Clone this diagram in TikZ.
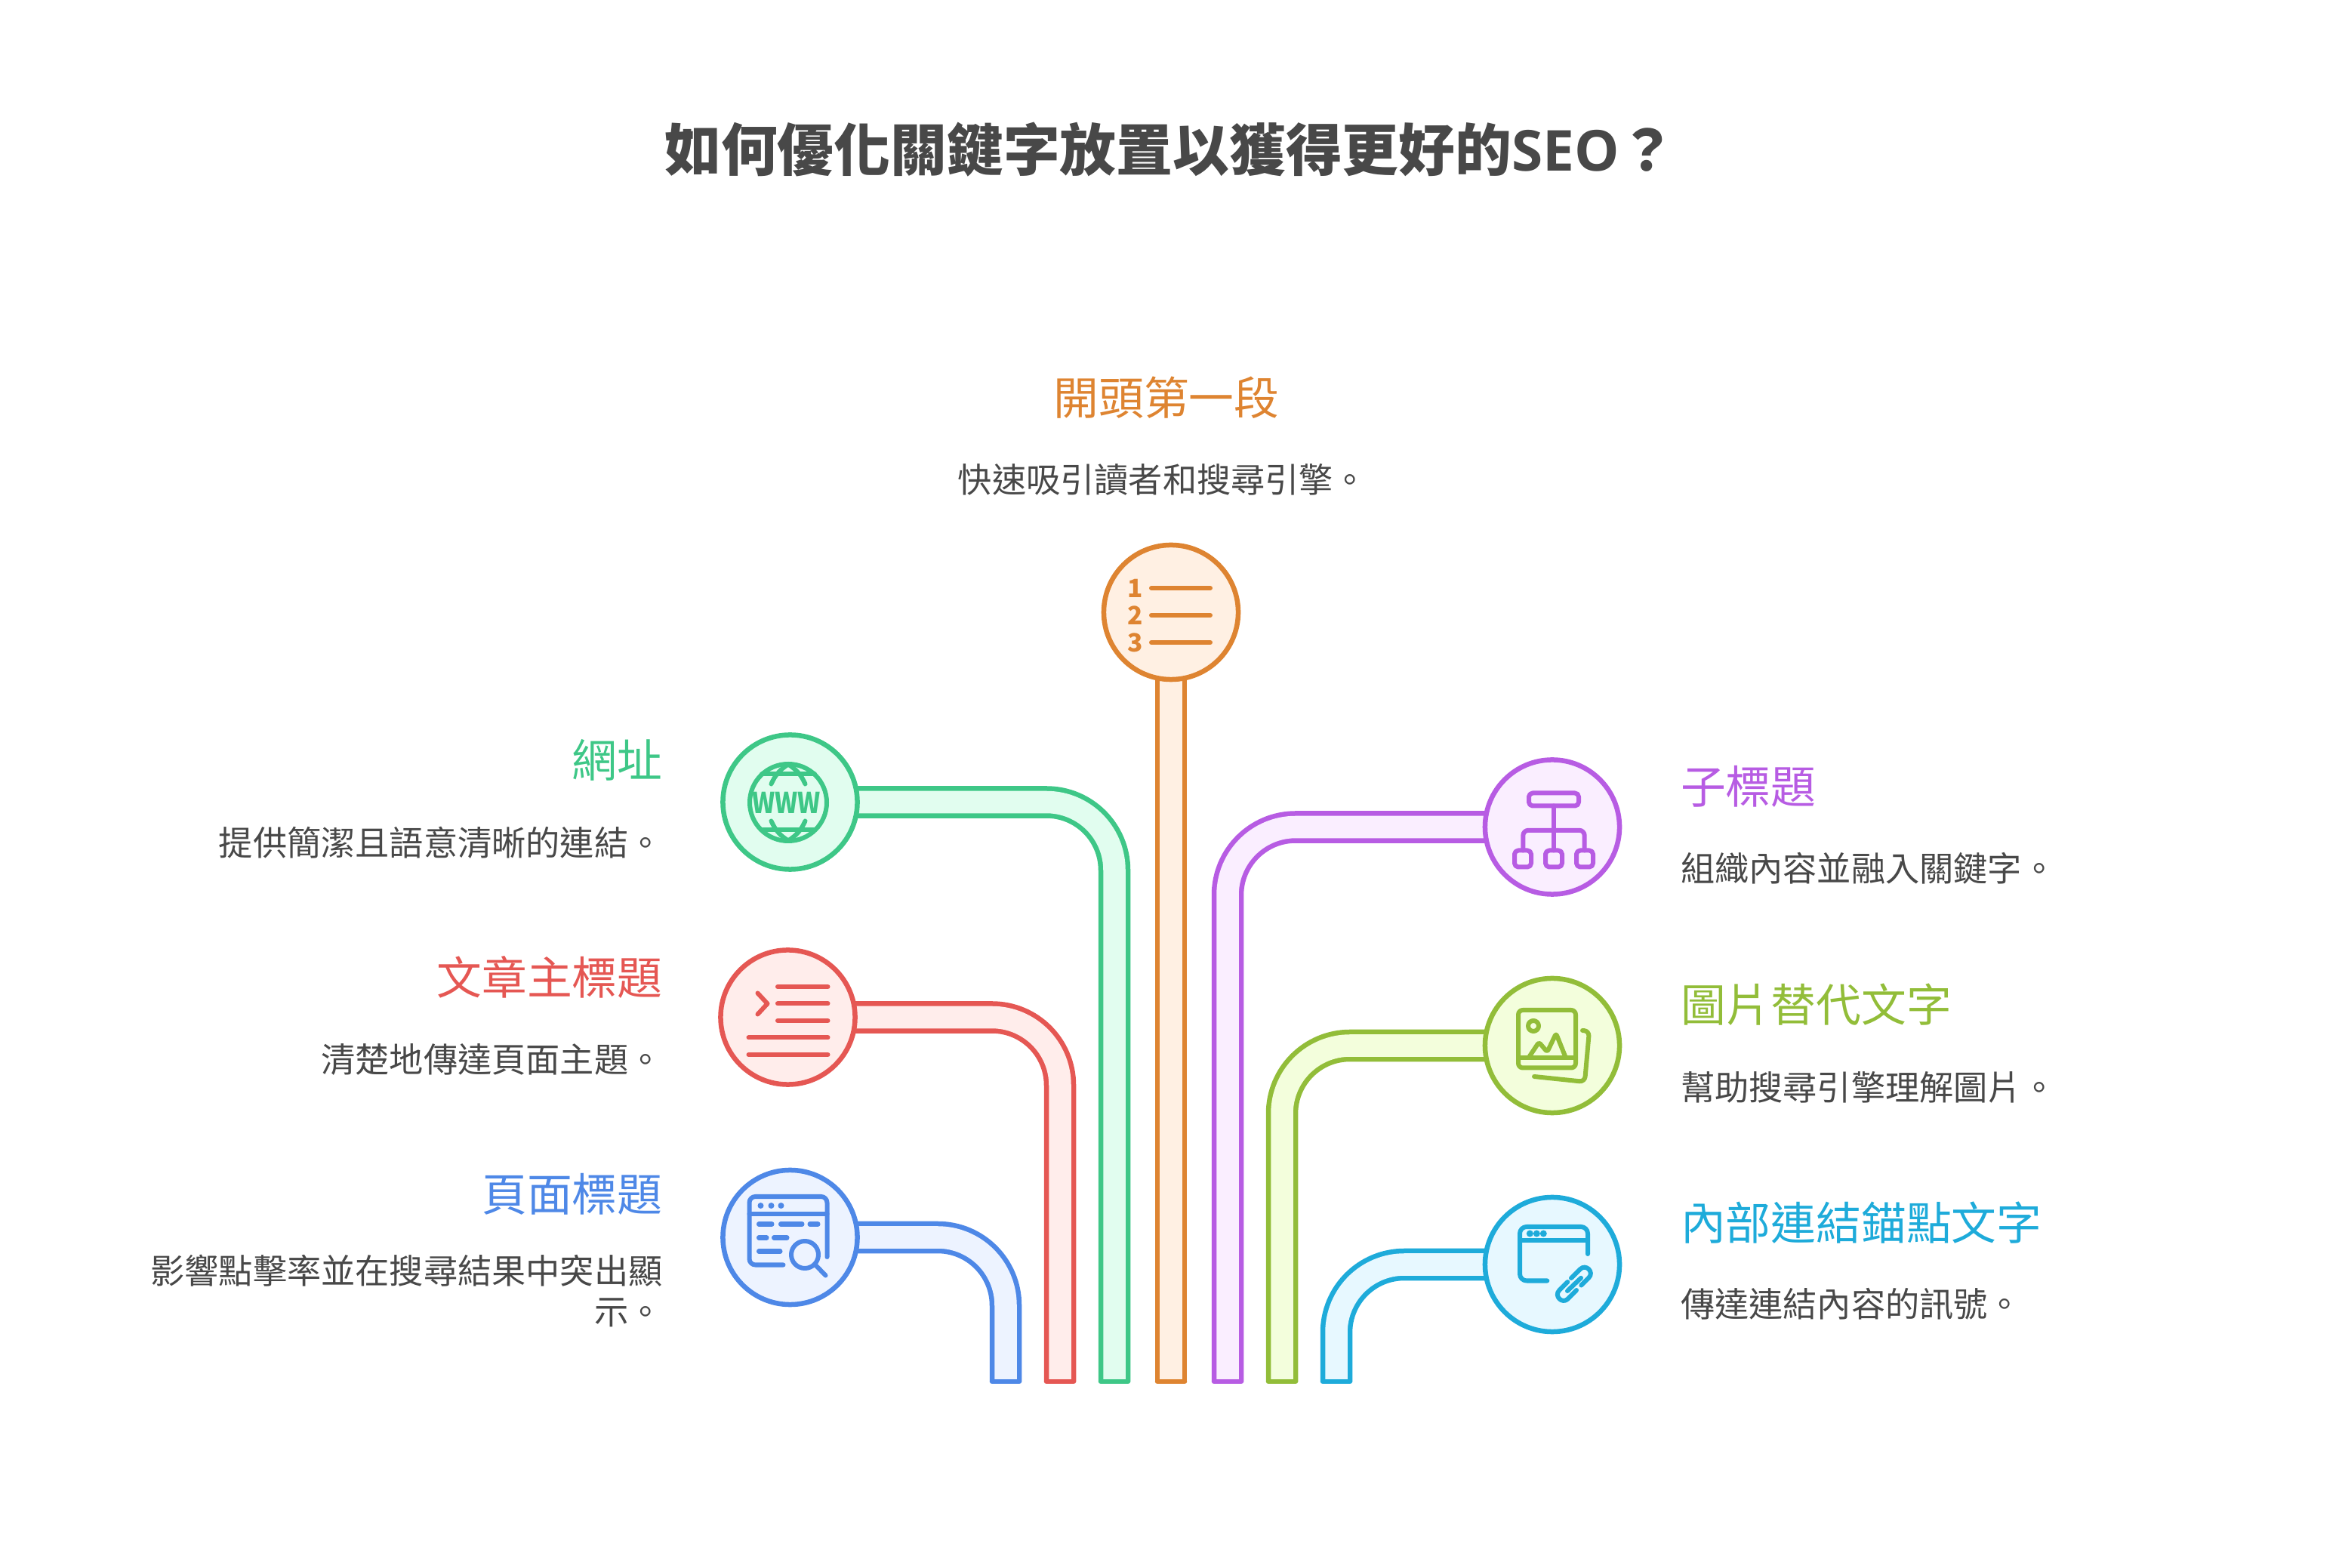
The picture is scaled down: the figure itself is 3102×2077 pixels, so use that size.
\documentclass[tikz,border=0pt]{standalone}
\usepackage{fontspec}
\setmainfont{Noto Sans CJK TC}
\newfontfamily\latinbold{Open Sans}
\usetikzlibrary{positioning}
\pgfdeclarelayer{tubes}
\pgfsetlayers{tubes,main}
\definecolor{bluec}{HTML}{4E88E7}\definecolor{bluef}{HTML}{EDF3FF}
\definecolor{redc}{HTML}{E55753}\definecolor{redf}{HTML}{FFEDEB}
\definecolor{grnc}{HTML}{3EC787}\definecolor{grnf}{HTML}{E1FDEF}
\definecolor{orgc}{HTML}{DE8431}\definecolor{orgf}{HTML}{FFF0E3}
\definecolor{purc}{HTML}{B75CE3}\definecolor{purf}{HTML}{FAEEFF}
\definecolor{limc}{HTML}{92BD39}\definecolor{limf}{HTML}{F3FEDC}
\definecolor{cync}{HTML}{1EABDA}\definecolor{cynf}{HTML}{E7F8FF}
\definecolor{inkc}{HTML}{484848}

\begin{document}
\begin{tikzpicture}[x=0.01cm,y=-0.01cm]
  \tikzset{RoundStyle/.style = {shape=circle, line width=0.065cm, inner sep=0pt, outer sep=0pt, minimum size=1.78cm},
           TubeStyle/.style = {line width=0.065cm, double distance=0.295cm, rounded corners=0.9cm},
           CapStyle/.style = {line width=0.065cm, line cap=round},
           IconStyle/.style = {line width=0.06cm, line cap=round, line join=round},
           HeadStyle/.style = {font=\fontsize{17}{20}\selectfont, inner sep=0pt, outer sep=0pt},
           DescStyle/.style = {font=\fontsize{12.85}{15.4}\selectfont, text=inkc, inner sep=0pt, outer sep=0pt}}
  \useasboundingbox (0,0) rectangle (3102,2077);
  \node[font=\fontsize{21.27}{25}\selectfont\bfseries, text=inkc](title) at (1550,198){如何優化關鍵字放置以獲得更好的{\latinbold SEO}？};
  %%% CIRCLES %%%
  \node[RoundStyle, draw=orgc, fill=orgf](listc) at (1551,811){};
  \node[RoundStyle, draw=grnc, fill=grnf](urlc) at (1046.5,1062.5){};
  \node[RoundStyle, draw=redc, fill=redf](headc) at (1043.5,1347.5){};
  \node[RoundStyle, draw=bluec, fill=bluef](pagec) at (1046.5,1639){};
  \node[RoundStyle, draw=purc, fill=purf](subc) at (2056,1095.5){};
  \node[RoundStyle, draw=limc, fill=limf](imgc) at (2056,1385){};
  \node[RoundStyle, draw=cync, fill=cynf](linkc) at (2056,1675){};
  %%% LOWER ENDS %%%
  \coordinate (pageend) at (1332,1830);
  \coordinate (headend) at (1404,1830);
  \coordinate (urlend) at (1476,1830);
  \coordinate (listend) at (1551,1830);
  \coordinate (subend) at (1626,1830);
  \coordinate (imgend) at (1698,1830);
  \coordinate (linkend) at (1770,1830);
  \begin{pgfonlayer}{tubes}
    \draw[TubeStyle, draw=bluec, double=bluef] (pagec.center) -| (pageend);
    \draw[CapStyle, draw=bluec] ([xshift=-0.18cm]pageend) -- ([xshift=0.18cm]pageend);
    \draw[TubeStyle, draw=redc, double=redf] (headc.center) -| (headend);
    \draw[CapStyle, draw=redc] ([xshift=-0.18cm]headend) -- ([xshift=0.18cm]headend);
    \draw[TubeStyle, draw=grnc, double=grnf] (urlc.center) -| (urlend);
    \draw[CapStyle, draw=grnc] ([xshift=-0.18cm]urlend) -- ([xshift=0.18cm]urlend);
    \draw[TubeStyle, draw=orgc, double=orgf] (listc.center) -- (listend);
    \draw[CapStyle, draw=orgc] ([xshift=-0.18cm]listend) -- ([xshift=0.18cm]listend);
    \draw[TubeStyle, draw=purc, double=purf] (subc.center) -| (subend);
    \draw[CapStyle, draw=purc] ([xshift=-0.18cm]subend) -- ([xshift=0.18cm]subend);
    \draw[TubeStyle, draw=limc, double=limf] (imgc.center) -| (imgend);
    \draw[CapStyle, draw=limc] ([xshift=-0.18cm]imgend) -- ([xshift=0.18cm]imgend);
    \draw[TubeStyle, draw=cync, double=cynf] (linkc.center) -| (linkend);
    \draw[CapStyle, draw=cync] ([xshift=-0.18cm]linkend) -- ([xshift=0.18cm]linkend);
  \end{pgfonlayer}
  %%% TEXTS %%%
  \node[HeadStyle, text=orgc, above=2.84cm of listc.center, xshift=-0.06cm, anchor=center](listh){開頭第一段};
  \node[DescStyle, above=1.76cm of listc.center, xshift=-0.11cm, anchor=center](listd){快速吸引讀者和搜尋引擎。};
  \node[HeadStyle, text=grnc, left=0.8cm of urlc, yshift=0.56cm](urlh){網址};
  \node[DescStyle, left=0.8cm of urlc, yshift=-0.54cm](urld){提供簡潔且語意清晰的連結。};
  \node[HeadStyle, text=redc, left=0.77cm of headc, yshift=0.53cm](headh){文章主標題};
  \node[DescStyle, left=0.77cm of headc, yshift=-0.56cm](headd){清楚地傳達頁面主題。};
  \node[HeadStyle, text=bluec, left=0.8cm of pagec, yshift=0.57cm](pageh){頁面標題};
  \node[DescStyle, align=right, left=0.8cm of pagec, yshift=-0.71cm](paged){影響點擊率並在搜尋結果中突出顯\\示。};
  \node[HeadStyle, text=purc, right=0.81cm of subc, yshift=0.54cm](subh){子標題};
  \node[DescStyle, right=0.81cm of subc, yshift=-0.55cm](subd){組織內容並融入關鍵字。};
  \node[HeadStyle, text=limc, right=0.81cm of imgc, yshift=0.54cm](imgh){圖片替代文字};
  \node[DescStyle, right=0.81cm of imgc, yshift=-0.55cm](imgd){幫助搜尋引擎理解圖片。};
  \node[HeadStyle, text=cync, right=0.81cm of linkc, yshift=0.55cm](linkh){內部連結錨點文字};
  \node[DescStyle, right=0.81cm of linkc, yshift=-0.52cm](linkd){傳達連結內容的訊號。};
  %%% ICONS %%%
  \begin{scope}[shift={(listc.center)}, IconStyle, draw=orgc]
    \draw (-26,-32) -- (52,-32);
    \draw (-26,4) -- (52,4);
    \draw (-26,40) -- (52,40);
    \node[font=\fontsize{9.5}{9}\selectfont\bfseries, text=orgc](numa) at (-47,-32){1};
    \node[font=\fontsize{9.5}{9}\selectfont\bfseries, text=orgc](numb) at (-47,4){2};
    \node[font=\fontsize{9.5}{9}\selectfont\bfseries, text=orgc](numc) at (-47,40){3};
  \end{scope}
  \begin{scope}[shift={(urlc.center)}, IconStyle, draw=grnc]
    \draw (-2.5,0.5) circle[radius=51];
    \draw (-37.5,-37) -- (32.5,-37);
    \draw (-37.5,37) -- (32.5,37);
    \draw (-2.5,-50) .. controls (-15,-42) and (-20,-35) .. (-25,-24);
    \draw (-2.5,-50) .. controls (10,-42) and (15,-35) .. (20,-24);
    \draw (-2.5,51) .. controls (-15,43) and (-20,36) .. (-25,25);
    \draw (-2.5,51) .. controls (10,43) and (15,36) .. (20,25);
    \node[font=\fontsize{10.8}{11}\selectfont\bfseries, text=grnc, xscale=0.85](wwwt) at (-5,1){WWW};
  \end{scope}
  \begin{scope}[shift={(headc.center)}, IconStyle, draw=redc]
    \draw (-13.5,-40.5) -- (53,-40.5);
    \draw (-13.5,-18) -- (53,-18);
    \draw (-13.5,4.5) -- (53,4.5);
    \draw (-52,27) -- (53,27);
    \draw (-52,49.5) -- (53,49.5);
    \draw (-40,-32) -- (-27,-18) -- (-40,-4);
  \end{scope}
  \begin{scope}[shift={(pagec.center)}, IconStyle, draw=bluec]
    \draw[rounded corners=0.08cm] (49,26) -- (49,-54) -- (-54,-54) -- (-54,36.5) -- (-9,36.5);
    \draw (-54,-31) -- (49,-31);
    \fill[bluec] (-39,-42) circle[radius=4] (-25,-42) circle[radius=4] (-12,-42) circle[radius=4];
    \draw (-41.5,-17.5) -- (-24,-17.5) (-12.5,-17.5) -- (16,-17.5) (26,-17.5) -- (37,-17.5);
    \draw (-41.5,0.5) -- (-31,0.5) (-21.5,0.5) -- (-4,0.5);
    \draw (-41.5,18.5) -- (-13,18.5);
    \draw (19.5,23) circle[radius=18];
    \draw (33,36) -- (47,50.5);
  \end{scope}
  \begin{scope}[shift={(subc.center)}, IconStyle, draw=purc]
    \draw[rounded corners=0.05cm] (-31,-45) rectangle (35,-28);
    \draw (1.7,-28) -- (1.7,31);
    \draw[rounded corners=0.07cm] (-38.7,31) -- (-38.7,4.3) -- (42.7,4.3) -- (42.7,31);
    \draw[rounded corners=0.05cm] (-50,31) rectangle (-28,53);
    \draw[rounded corners=0.05cm] (-9,31) rectangle (13,53);
    \draw[rounded corners=0.05cm] (32,31) rectangle (54,53);
  \end{scope}
  \begin{scope}[shift={(imgc.center)}, IconStyle, draw=limc]
    \draw[rounded corners=0.06cm] (-45,-47) rectangle (31,29.5);
    \draw (-45,16.5) -- (31,16.5);
    \draw (-25,-26) circle[radius=7];
    \draw[rounded corners=0.03cm] (-30,14) -- (-17.7,-4.5) -- (-6.7,8.5) -- (5,-16) -- (17,14);
    \draw[rounded corners=0.07cm] (40,-20) -- (49,-19.5) -- (43,48) -- (-24,41);
  \end{scope}
  \begin{scope}[shift={(linkc.center)}, IconStyle, draw=cync]
    \draw[rounded corners=0.09cm] (47,-14) -- (47,-50) -- (-43,-50) -- (-43,21.5) -- (-6.7,21.5);
    \draw (-43,-32) -- (47,-32);
    \fill[cync] (-29.7,-41) circle[radius=4.5] (-20.7,-41) circle[radius=4.5] (-11.7,-41) circle[radius=4.5];
    \draw (25,18) -- (37,6.1) .. controls (44.5,-1.4) and (55.9,10) .. (48.4,17.5) -- (38.4,27.5);
    \draw (32,34) -- (20.7,45.5) .. controls (13.2,53) and (1.8,41.6) .. (9.3,34.1) -- (20.3,23.1);
    \draw (20,35) -- (38,17.8);
  \end{scope}
\end{tikzpicture}
\end{document}
